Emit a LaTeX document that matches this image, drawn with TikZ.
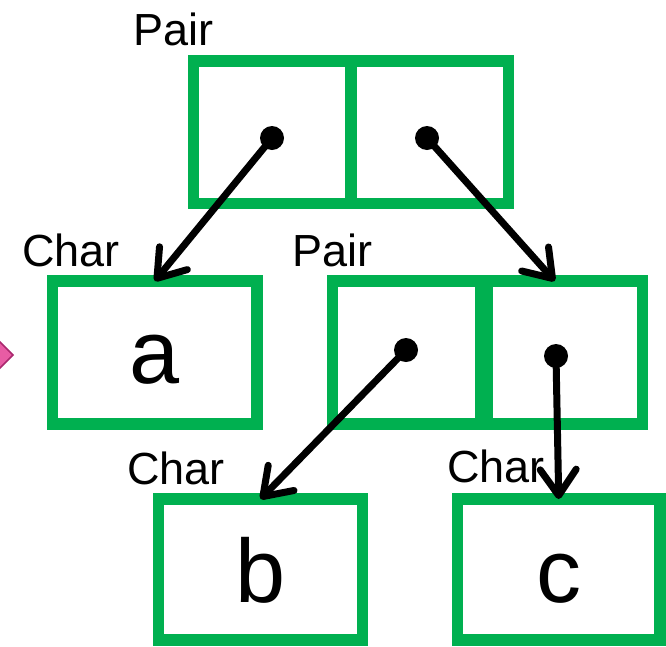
\documentclass[tikz,border=0pt]{standalone}
\usepackage{fontspec}
\setmainfont{Liberation Sans}
\usetikzlibrary{arrows.meta}
\definecolor{boxgreen}{RGB}{0,176,80}
\definecolor{gemfill}{RGB}{232,92,164}
\definecolor{gemedge}{RGB}{170,40,110}
\begin{document}
\begin{tikzpicture}[x=1pt,y=-1pt,
  cell/.style={draw=boxgreen, line width=11.5pt, rectangle, outer sep=0pt, inner sep=0pt},
  letter/.style={inner sep=0pt, anchor=base, font=\fontsize{90}{100}\selectfont},
  tag/.style={inner sep=0pt, anchor=base west, font=\fontsize{45}{50}\selectfont},
  dot/.style={circle, fill=black, inner sep=0pt, minimum size=24pt},
  ptr/.style={line width=7pt, line cap=round, -{Straight Barb[length=26pt,width=36pt,round]}},
  gem/.style={fill=gemfill, draw=gemedge, line width=1.5pt}]
\useasboundingbox (0,0) rectangle (666,646);
\clip (0,0) rectangle (666,646);

% edge marker
\draw[gem] (-13,355) -- (0,342) -- (13,355) -- (0,368) -- cycle;

% top pair cell
\node[cell, minimum width=157.5pt, minimum height=142.5pt] (tl) at (272.25,132.25) {};
\node[cell, minimum width=157.5pt, minimum height=142.5pt] (tr) at (429.75,132.25) {};
\node[tag] (lbltop) at (133,45) {Pair};

% char a
\node[cell, minimum width=204.5pt, minimum height=143pt] (ca) at (154.75,352.5) {};
\node[letter] (ta) at (155,383) {a};
\node[tag] (lbla) at (22,266) {Char};

% inner pair cell
\node[cell, minimum width=148.5pt, minimum height=143pt] (ml) at (406.75,352.5) {};
\node[cell, minimum width=155.5pt, minimum height=143pt] (mr) at (564.75,352.5) {};
\node[tag] (lblmid) at (292,266) {Pair};

% char b and char c
\node[cell, minimum width=204pt, minimum height=141pt] (cb) at (260.5,569.5) {};
\node[letter] (tb) at (261,602) {b};
\node[tag] (lblb) at (127,484) {Char};
\node[cell, minimum width=202.5pt, minimum height=141pt] (cc) at (558.75,569.5) {};
\node[letter] (tc) at (559,602) {c};
\node[tag] (lblc) at (447,482) {Char};

% pointer dots
\node[dot] (d1) at (272,138) {};
\node[dot] (d2) at (427,138) {};
\node[dot] (d3) at (406,350) {};
\node[dot] (d4) at (556,356) {};

% pointers
\draw[ptr] (d1.center) -- (ca.north);
\draw[ptr] (d2.center) -- ([xshift=-10pt]mr.north);
\draw[ptr] (d3.center) -- (cb.north);
\draw[ptr] (d4.center) -- (cc.north);
\end{tikzpicture}
\end{document}
